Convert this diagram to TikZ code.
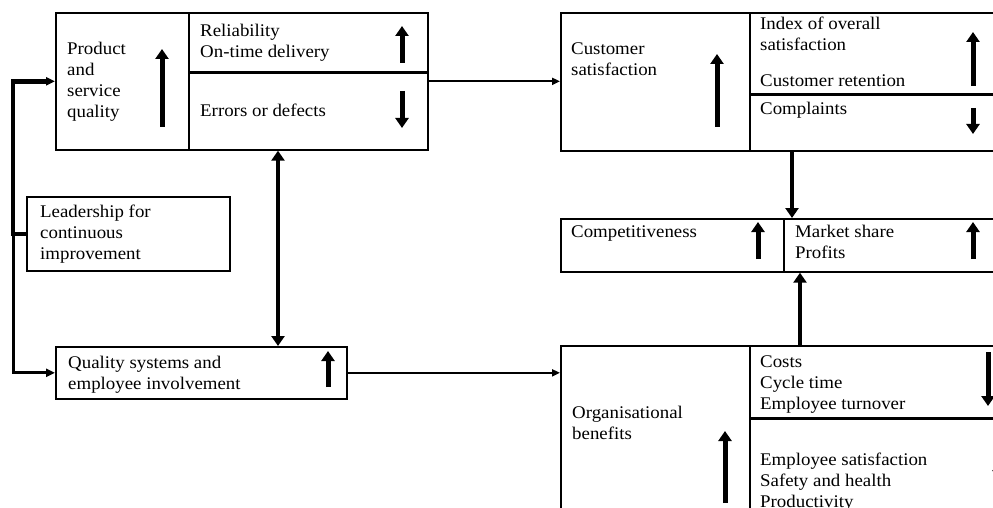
\documentclass[tikz,border=0pt]{standalone}
\usepackage{fontspec}
\setmainfont{Liberation Serif}[FakeStretch=1.06]
\usetikzlibrary{arrows.meta,calc}
\begin{document}
\begin{tikzpicture}[x=1pt,y=-1pt,
  cell/.style={draw,line width=1.7pt,inner sep=0pt,anchor=north west},
  lbl/.style={anchor=base west,inner sep=0pt,align=left,font=\fontsize{17.8}{21}\selectfont},
  glyph/.style={line width=5pt,-{Triangle[length=10pt,width=13pt]}},
  bigconn/.style={line width=4.8pt,-{Triangle[length=10pt,width=13pt]}},
  dblconn/.style={line width=4.8pt,{Triangle[length=10pt,width=13pt]}-{Triangle[length=10pt,width=13pt]}},
  conn/.style={line width=2.2pt,-{Triangle[length=8pt,width=7pt]}},
  divider/.style={line width=3pt}]
\useasboundingbox (0,0) rectangle (993,508);
\fill[white] (0,0) rectangle (993,508);
\clip (0,0) rectangle (993,508);

% ---- Product and service quality block (label baselines = last line)
\node[cell,minimum width=372pt,minimum height=137pt] (pq) at (55,12) {};
\node[cell,minimum width=133pt,minimum height=137pt] (pqL) at (55,12) {};
\draw[divider] (188,73) -- (427,73);
\node[lbl] (tpq) at (67,118) {Product\\and\\service\\quality};
\node[lbl] (trel) at (200,58) {Reliability\\On-time delivery};
\node[lbl] (terr) at (200,117) {Errors or defects};
\draw[glyph] (162,127) -- (162,49);
\draw[glyph] (402,63) -- (402,26);
\draw[glyph] (402,91) -- (402,128);

% ---- Leadership
\node[cell,minimum width=203pt,minimum height=74pt] (ld) at (26,196) {};
\node[lbl] (tld) at (40,259) {Leadership for\\continuous\\improvement};

% ---- Quality systems
\node[cell,minimum width=291pt,minimum height=52pt] (qs) at (55,346) {};
\node[lbl] (tqs) at (68,389) {Quality systems and\\employee involvement};
\draw[glyph] (328,387) -- (328,351);

% ---- Customer satisfaction block
\node[cell,minimum width=450pt,minimum height=138pt] (cs) at (560,12) {};
\node[cell,minimum width=189pt,minimum height=138pt] (csL) at (560,12) {};
\draw[divider] (749,95) -- (1010,95);
\node[lbl] (tcs) at (571,76) {Customer\\satisfaction};
\node[lbl] (tidx) at (760,51) {Index of overall\\satisfaction};
\node[lbl] (tret) at (760,87) {Customer retention};
\node[lbl] (tcom) at (760,115) {Complaints};
\draw[glyph] (717,127) -- (717,54);
\draw[glyph] (973,86) -- (973,32);
\draw[glyph] (973,108) -- (973,134);

% ---- Competitiveness block
\node[cell,minimum width=450pt,minimum height=53pt] (cp) at (560,218) {};
\node[cell,minimum width=223pt,minimum height=53pt] (cpL) at (560,218) {};
\node[lbl] (tcp) at (571,237) {Competitiveness};
\node[lbl] (tms) at (795,258) {Market share\\Profits};
\draw[glyph] (758,259) -- (758,222);
\draw[glyph] (973,259) -- (973,222);

% ---- Organisational benefits block
\node[cell,minimum width=450pt,minimum height=190pt] (ob) at (560,345) {};
\node[cell,minimum width=189pt,minimum height=190pt] (obL) at (560,345) {};
\draw[divider] (749,418) -- (1010,418);
\node[lbl] (tob) at (572,439) {Organisational\\benefits};
\node[lbl] (tcost) at (760,409) {Costs\\Cycle time\\Employee turnover};
\node[lbl] (temp) at (760,507) {Employee satisfaction\\Safety and health\\Productivity};
\draw[glyph] (725,503) -- (725,431);
\draw[glyph] (988,352) -- (988,406);
\draw[glyph] (999,520) -- (999,461);

% ---- Connectors
\coordinate (fb) at (13,0);
\coordinate (dx) at (278,0);
\coordinate (cx1) at (792,0);
\coordinate (cx2) at (800,0);
\draw[line width=4.5pt,-{Triangle[length=9pt,width=8pt]}] (ld.west) -- (fb |- ld.west) |- (pq.west);
\draw[line width=3pt,-{Triangle[length=9pt,width=8pt]}] (fb |- ld.west) |- (qs.west);
\draw[dblconn] (dx |- pq.south) -- (dx |- qs.north);
\draw[conn] (pq.east) -- (pq.east -| cs.west);
\draw[conn] (qs.east) -- (qs.east -| ob.west);
\draw[bigconn] (cx1 |- cs.south) -- (cx1 |- cp.north);
\draw[bigconn] (cx2 |- ob.north) -- (cx2 |- cp.south);
\end{tikzpicture}
\end{document}
